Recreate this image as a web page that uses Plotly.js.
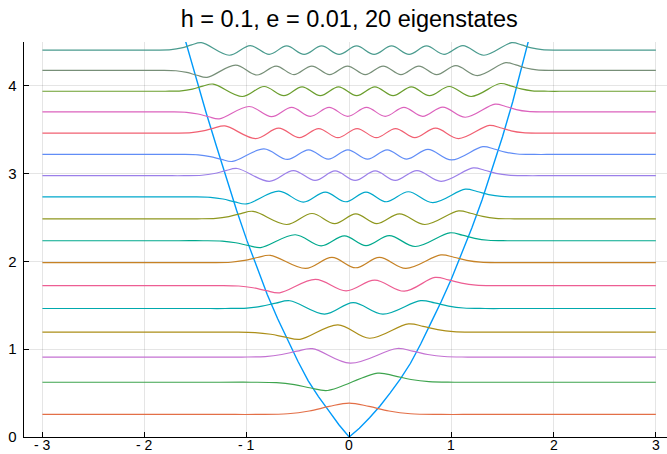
<!DOCTYPE html>
<html><head><meta charset="utf-8">
<script src="https://cdn.plot.ly/plotly-3.0.1.min.js"></script>
<style>html,body{margin:0;padding:0;background:#fff}#plot{width:667px;height:454px}</style>
</head><body><div id="plot"></div>
<script>
const titleText = "h = 0.1, e = 0.01, 20 eigenstates";
const xTickVals = [-3, -2, -1, 0, 1, 2, 3];
const xTickText = ["- 3", "- 2", "- 1", "0", "1", "2", "3"];
const yTickVals = [0, 1, 2, 3, 4];
const yTickText = ["0", "1", "2", "3", "4"];
const xSpan = [-3, 3];

// potential curve
const potX = [-1.8, -1.7, -1.6, -1.5, -1.4, -1.3, -1.2, -1.1, -1.0, -0.9, -0.8, -0.7, -0.6, -0.5, -0.4, -0.3, -0.2, -0.1, 0,
              0.1, 0.2, 0.3, 0.4, 0.5, 0.6, 0.7, 0.8, 0.9, 1.0, 1.1, 1.2, 1.3, 1.4, 1.5, 1.6, 1.7, 1.8, 1.9];
const potY = [5.32, 4.91, 4.50, 4.10, 3.70, 3.32, 2.94, 2.58, 2.24, 1.92, 1.62, 1.35, 1.10, 0.86, 0.64, 0.46, 0.30, 0.14, 0,
              0.10, 0.22, 0.35, 0.50, 0.66, 0.84, 1.06, 1.30, 1.54, 1.80, 2.08, 2.38, 2.70, 3.05, 3.42, 3.82, 4.25, 4.70, 5.17];

// eigenstate baselines (levels)
const levels = [0.257, 0.624, 0.911, 1.195, 1.464, 1.725, 1.986, 2.236, 2.486, 2.735, 2.977, 3.219, 3.462, 3.704, 3.939, 4.177, 4.407];

// x of each local extremum per state
const extremaX = [
  [0.0],
  [-0.21, 0.28],
  [-0.36, 0.01, 0.47],
  [-0.48, -0.11, 0.20, 0.58],
  [-0.58, -0.24, 0.04, 0.33, 0.70],
  [-0.68, -0.33, -0.03, 0.25, 0.54, 0.84],
  [-0.77, -0.426, -0.168, 0.064, 0.296, 0.554, 0.898],
  [-0.865, -0.527, -0.274, -0.046, 0.165, 0.393, 0.646, 0.984],
  [-0.94, -0.61, -0.363, -0.141, 0.065, 0.271, 0.493, 0.740, 1.07],
  [-1.005, -0.687, -0.448, -0.233, -0.034, 0.165, 0.364, 0.579, 0.818, 1.136],
  [-1.095, -0.781, -0.545, -0.333, -0.137, 0.059, 0.255, 0.451, 0.663, 0.899, 1.213],
  [-1.14, -0.833, -0.603, -0.396, -0.204, -0.012, 0.180, 0.372, 0.564, 0.771, 1.001, 1.308],
  [-1.215, -0.914, -0.689, -0.486, -0.298, -0.110, 0.078, 0.266, 0.454, 0.642, 0.845, 1.070, 1.371],
  [-1.27, -0.978, -0.759, -0.562, -0.379, -0.196, -0.013, 0.170, 0.353, 0.536, 0.719, 0.916, 1.135, 1.427],
  [-1.33, -1.045, -0.831, -0.638, -0.460, -0.282, -0.104, 0.074, 0.252, 0.430, 0.608, 0.786, 0.979, 1.193, 1.478],
  [-1.39, -1.111, -0.902, -0.714, -0.540, -0.365, -0.191, -0.016, 0.158, 0.333, 0.507, 0.682, 0.856, 1.044, 1.253, 1.532],
  [-1.445, -1.172, -0.967, -0.782, -0.611, -0.440, -0.269, -0.098, 0.073, 0.244, 0.415, 0.586, 0.757, 0.928, 1.113, 1.318, 1.591]
];

// height of each extremum above/below its baseline
const extremaDY = [
  [0.13],
  [-0.094, 0.104],
  [0.095, -0.07, 0.097],
  [-0.082, 0.083, -0.07, 0.094],
  [0.088, -0.064, 0.067, -0.064, 0.09],
  [-0.082, 0.07, -0.06, 0.062, -0.064, 0.093],
  [0.084, -0.065, 0.06, -0.058, 0.06, -0.065, 0.088],
  [-0.078, 0.068, -0.058, 0.056, -0.056, 0.058, -0.066, 0.09],
  [0.085, -0.065, 0.06, -0.056, 0.055, -0.055, 0.056, -0.065, 0.09],
  [-0.080, 0.065, -0.059, 0.055, -0.055, 0.055, -0.055, 0.059, -0.065, 0.088],
  [0.082, -0.064, 0.058, -0.054, 0.054, -0.054, 0.054, -0.054, 0.058, -0.064, 0.088],
  [-0.08, 0.063, -0.057, 0.053, -0.053, 0.053, -0.053, 0.053, -0.053, 0.057, -0.063, 0.088],
  [0.082, -0.062, 0.056, -0.052, 0.052, -0.052, 0.052, -0.052, 0.052, -0.052, 0.056, -0.062, 0.088],
  [-0.08, 0.061, -0.055, 0.051, -0.051, 0.051, -0.051, 0.051, -0.051, 0.051, -0.051, 0.055, -0.061, 0.088],
  [0.082, -0.06, 0.054, -0.05, 0.05, -0.05, 0.05, -0.05, 0.05, -0.05, 0.05, -0.05, 0.054, -0.06, 0.088],
  [-0.08, 0.059, -0.053, 0.049, -0.049, 0.049, -0.049, 0.049, -0.049, 0.049, -0.049, 0.049, -0.049, 0.053, -0.059, 0.088],
  [0.085, -0.058, 0.052, -0.048, 0.048, -0.048, 0.048, -0.048, 0.048, -0.048, 0.048, -0.048, 0.048, -0.048, 0.052, -0.058, 0.085]
];

// decay of the outer lobes beyond the last extremum (distance, fraction of lobe height)
const tailDist = [0.13, 0.26, 0.40, 0.60, 0.85];
const tailFrac = [0.70, 0.30, 0.06, 0.0, 0.0];
const tailScale = [1.5, 1.25, 1.15, 1.1, 1.05, 1.0, 0.97, 0.94, 0.91, 0.88, 0.86, 0.84, 0.82, 0.80, 0.78, 0.76, 0.74];

const potColor = "#009AFA";
const stateColors = ["#E36F47", "#3EA44E", "#C371D2", "#AC8E18", "#00A9AD", "#ED5E93", "#C68225", "#00A98D",
                     "#8E971E", "#00A8CB", "#9B7FE9", "#618DF6", "#F16072", "#DC63BD", "#6B9E2E", "#778F78", "#4A9B8E"];

const fontFamily = "Liberation Sans, Arial, sans-serif";

const traces = [];
traces.push({x: potX, y: potY, type: "scatter", mode: "lines", line: {color: potColor, width: 1.4}, hoverinfo: "skip"});

levels.forEach((E, i) => {
  const ex = extremaX[i], dy = extremaDY[i], s = tailScale[i];
  const last = ex.length - 1;
  const xs = [xSpan[0]], ys = [E];
  for (let k = tailDist.length - 1; k >= 0; k--) { xs.push(ex[0] - tailDist[k] * s); ys.push(E + dy[0] * tailFrac[k]); }
  ex.forEach((x, j) => { xs.push(x); ys.push(E + dy[j]); });
  for (let k = 0; k < tailDist.length; k++) { xs.push(ex[last] + tailDist[k] * s); ys.push(E + dy[last] * tailFrac[k]); }
  xs.push(xSpan[1]); ys.push(E);
  traces.push({x: xs, y: ys, type: "scatter", mode: "lines",
    line: {color: stateColors[i], width: 1.2, shape: "spline", smoothing: 1}, hoverinfo: "skip"});
});

const axisCommon = {
  showline: true, linecolor: "#000", linewidth: 1.3, mirror: false,
  ticks: "inside", ticklen: 5, tickwidth: 1.2, tickcolor: "#000",
  showgrid: true, gridcolor: "rgba(0,0,0,0.1)", gridwidth: 1,
  zeroline: false, tickfont: {family: fontFamily, size: 15, color: "#000"}
};

// x tick labels as annotations so they sit close under the axis like the reference
const xLabelAnnotations = xTickVals.map((v, i) => ({
  x: v, xref: "x", y: 0, yref: "paper", text: xTickText[i], showarrow: false,
  xanchor: "center", yanchor: "top", yshift: 1, borderpad: 0,
  font: {family: fontFamily, size: 14, color: "#000"}
}));

const layout = {
  width: 667, height: 454,
  margin: {l: 24, r: 0, t: 42, b: 17, pad: 0},
  paper_bgcolor: "#fff", plot_bgcolor: "#fff",
  showlegend: false,
  title: {text: titleText, font: {family: fontFamily, size: 23.5, color: "#000"},
          x: 349.3 / 667, xref: "container", xanchor: "center", y: 1 - 19 / 454, yref: "container", yanchor: "middle"},
  xaxis: Object.assign({}, axisCommon, {range: [-3.18, 3.109], tickmode: "array", tickvals: xTickVals, ticktext: xTickText, showticklabels: false}),
  yaxis: Object.assign({}, axisCommon, {range: [0, 4.5], tickmode: "array", tickvals: yTickVals, ticktext: yTickText, ticklabelstandoff: 3}),
  annotations: xLabelAnnotations
};

Plotly.newPlot("plot", traces, layout, {staticPlot: true, displayModeBar: false});
</script>
</body></html>
